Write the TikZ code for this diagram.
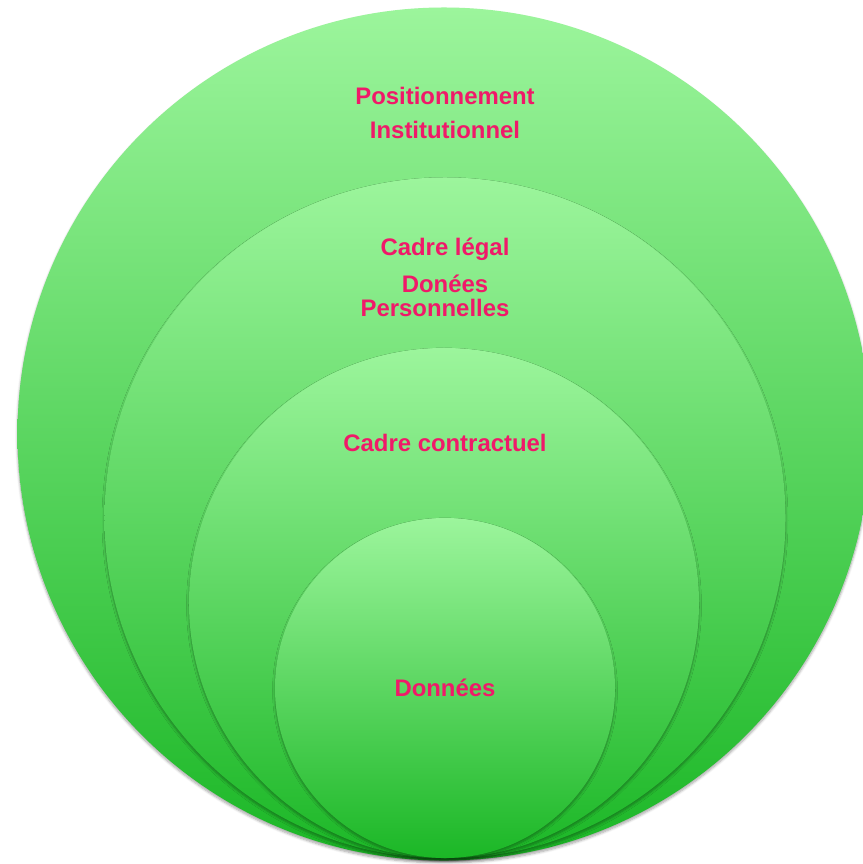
\documentclass[tikz,border=0pt]{standalone}
\usepackage{fontspec}
\setmainfont{Liberation Sans}
\usetikzlibrary{shadows.blur}
\definecolor{lightgreen}{RGB}{156,245,156}
\definecolor{midgreen}{RGB}{120,222,122}
\definecolor{darkgreen}{RGB}{27,183,38}
\definecolor{labelpink}{RGB}{240,25,105}
\begin{document}
\begin{tikzpicture}[
		x=0.03cm,y=-0.03cm,
		ring/.style={circle,inner sep=0pt,top color=lightgreen,middle color=midgreen,bottom color=darkgreen,
			blur shadow={shadow xshift=0pt,shadow yshift=-2pt,shadow blur steps=6,shadow opacity=35}},
		every label node/.style={text=labelpink,font=\fontsize{20.4}{24}\selectfont\bfseries,inner sep=0pt}
  	]
	\useasboundingbox (0,0) rectangle (862,864);
	\node[ring,minimum size=25.59cm] (R1) at (444,434) {};
	\node[ring,minimum size=20.43cm] (R2) at (445,518) {};
	\node[ring,minimum size=15.30cm] (R3) at (444,603) {};
	\node[ring,minimum size=10.20cm] (R4) at (445,688) {};
	\node[every label node] (P1) at (445,96) {Positionnement};
	\node[every label node] (P2) at (445,130) {Institutionnel};
	\node[every label node] (L1) at (445,249) {Cadre légal};
	\node[every label node] (L2) at (445,284) {Donées};
	\node[every label node] (L3) at (435,308) {Personnelles};
	\node[every label node] (C) at (445,443) {Cadre contractuel};
	\node[every label node] (D) at (445,688) {Données};
\end{tikzpicture}
\end{document}
